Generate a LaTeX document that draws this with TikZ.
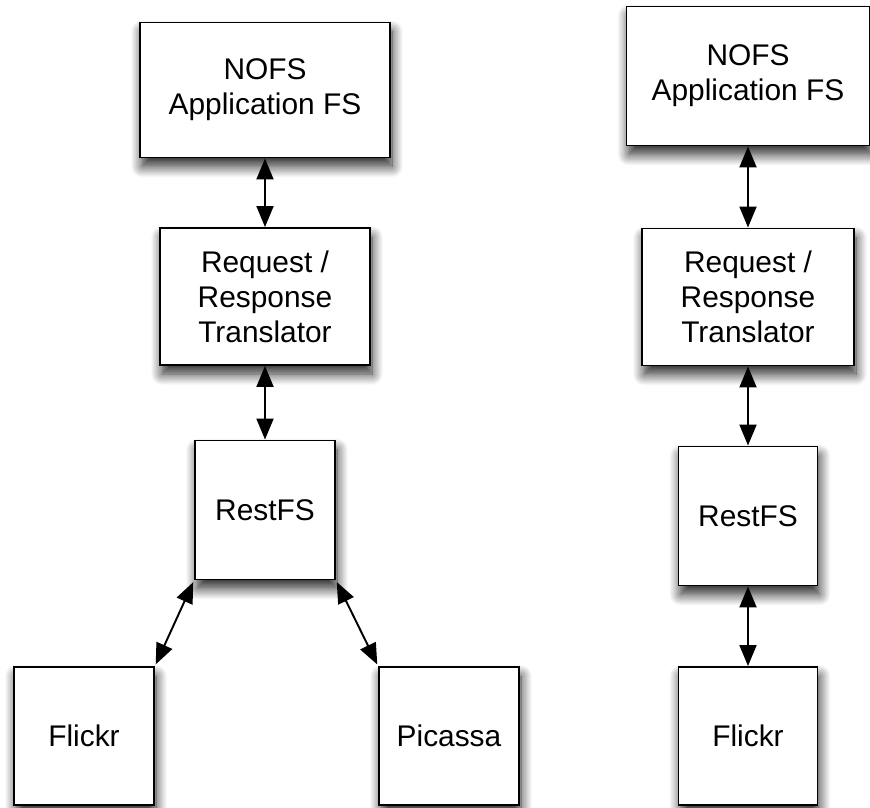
\documentclass[tikz,border=0pt]{standalone}
\usepackage{fontspec}
\setmainfont{Liberation Sans}
\usepackage{tikz}
\usetikzlibrary{arrows.meta, shadows.blur}
\tikzstyle{block} = [rectangle, draw=black, line width=1.1pt, fill=white, align=center, inner sep=0pt, font=\fontsize{17}{20}\selectfont, blur shadow={shadow xshift=0.4mm, shadow yshift=-1.8mm, shadow blur steps=12, shadow blur radius=2.2mm, shadow opacity=85}]
\tikzstyle{arrow} = [line width=1.1pt, {Triangle[length=0.42cm,width=0.34cm]}-{Triangle[length=0.42cm,width=0.34cm]}]

\begin{document}
\begin{tikzpicture}
      \useasboundingbox (0,0) rectangle (17.4,-16.16);

      % left stack
      \node[block, minimum width=5cm, minimum height=2.7cm] (nofsA) at (5.3,-1.8) {NOFS\\Application FS};
      \node[block, minimum width=4.2cm, minimum height=2.74cm] (reqA) at (5.3,-5.93) {Request /\\Response\\Translator};
      \node[block, minimum width=2.8cm, minimum height=2.78cm] (restA) at (5.3,-10.2) {RestFS};
      \node[block, minimum width=2.8cm, minimum height=2.76cm] (flickrA) at (1.68,-14.72) {Flickr};
      \node[block, minimum width=2.8cm, minimum height=2.76cm] (picassaA) at (8.98,-14.72) {Picassa};

      % right stack
      \node[block, minimum width=4.86cm, minimum height=2.78cm] (nofsB) at (14.96,-1.52) {NOFS\\Application FS};
      \node[block, minimum width=4.24cm, minimum height=2.74cm] (reqB) at (14.96,-5.94) {Request /\\Response\\Translator};
      \node[block, minimum width=2.78cm, minimum height=2.78cm] (restB) at (14.96,-10.32) {RestFS};
      \node[block, minimum width=2.78cm, minimum height=2.76cm] (flickrB) at (14.96,-14.72) {Flickr};

      % connectors
      \draw[arrow] (nofsA) -- (reqA);
      \draw[arrow] (reqA) -- (restA);
      \draw[arrow, shorten <=1pt, shorten >=1pt] (restA.south west) -- (flickrA.north east);
      \draw[arrow, shorten <=1pt, shorten >=1pt] (restA.south east) -- (picassaA.north west);

      \draw[arrow] (nofsB) -- (reqB);
      \draw[arrow] (reqB) -- (restB);
      \draw[arrow] (restB) -- (flickrB);
    \end{tikzpicture}
\end{document}
